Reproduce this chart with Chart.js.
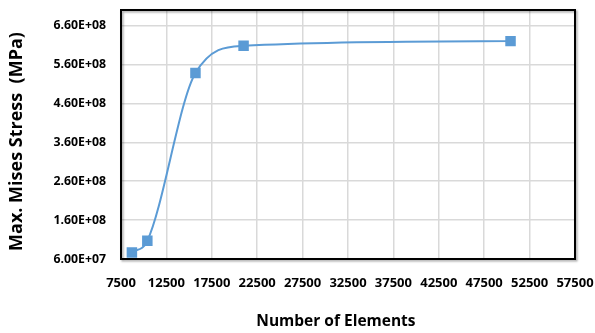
<!DOCTYPE html>
<html><head><meta charset="utf-8">
<script src="https://cdn.jsdelivr.net/npm/chart.js@4"></script>
<style>html,body{margin:0;padding:0;background:#fff}#wrap{width:595px;height:333px}</style>
</head><body><div id="wrap"><canvas id="c" width="595" height="333"></canvas></div>
<script>
const elementCounts = [8700, 10400, 15700, 21000, 50400];
const maxStress = [7.7e7, 1.07e8, 5.38e8, 6.08e8, 6.2e8];
const xTickValues = [7500, 12500, 17500, 22500, 27500, 32500, 37500, 42500, 47500, 52500, 57500];
const yTickValues = [6.0e7, 1.6e8, 2.6e8, 3.6e8, 4.6e8, 5.6e8, 6.6e8];

function sci(v){
  const parts = Number(v).toExponential(2).split('e');
  const n = parseInt(parts[1], 10);
  return parts[0] + 'E' + (n < 0 ? '-' : '+') + String(Math.abs(n)).padStart(2, '0');
}

const frame = {
  id: 'frame',
  beforeDatasetsDraw(chart){
    const a = chart.chartArea, ctx = chart.ctx;
    ctx.save();
    ctx.shadowColor = 'rgba(0,0,0,0.35)';
    ctx.shadowOffsetX = 1.5; ctx.shadowOffsetY = 1.5; ctx.shadowBlur = 2;
    ctx.strokeStyle = '#000'; ctx.lineWidth = 2;
    ctx.strokeRect(a.left, a.top, a.right - a.left, a.bottom - a.top);
    ctx.restore();
  }
};

const xTickFont = {family: "'Open Sans', sans-serif", weight: 'bold', size: 13};
const yTickFont = {family: "'Open Sans', sans-serif", weight: 'bold', size: 12.3};

new Chart(document.getElementById('c'), {
  type: 'line',
  data: {
    datasets: [{
      data: elementCounts.map((x, i) => ({x: x, y: maxStress[i]})),
      borderColor: '#5B9BD5',
      backgroundColor: '#5B9BD5',
      borderWidth: 2,
      pointStyle: 'rect',
      pointRadius: 6,
      pointHoverRadius: 6,
      cubicInterpolationMode: 'monotone',
      fill: false
    }]
  },
  options: {
    responsive: false,
    devicePixelRatio: 1,
    animation: false,
    events: [],
    layout: {padding: {left: 0, right: 20, top: 10, bottom: 0}},
    plugins: {legend: {display: false}, tooltip: {enabled: false}},
    scales: {
      x: {
        type: 'linear', min: 7500, max: 57500,
        afterBuildTicks: s => { s.ticks = xTickValues.map(v => ({value: v})); },
        afterFit: s => { s.height = 74; s.paddingLeft = 0; s.paddingRight = 0; },
        ticks: {font: xTickFont, color: '#000', padding: 16, autoSkip: false, maxRotation: 0, callback: v => String(v)},
        grid: {color: '#d9d9d9', lineWidth: 1.5, drawTicks: false},
        border: {display: false},
        title: {display: true, text: 'Number of Elements      ', color: '#000',
          font: {family: "'Open Sans', sans-serif", weight: 'bold', size: 15.5}, padding: {top: 0, bottom: 2}}
      },
      y: {
        type: 'linear', min: 6.0e7, max: 7.0e8,
        afterBuildTicks: s => { s.ticks = yTickValues.map(v => ({value: v})); },
        afterFit: s => { s.width = 121; s.paddingTop = 0; s.paddingBottom = 0; },
        ticks: {font: yTickFont, color: '#000', padding: 15, callback: v => sci(v)},
        grid: {color: '#d9d9d9', lineWidth: 1.5, drawTicks: false},
        border: {display: false},
        title: {display: true, text: 'Max. Mises Stress  (MPa)   ', color: '#000',
          font: {family: "'Open Sans', sans-serif", weight: 'bold', size: 18}, padding: {top: 6.5, bottom: 0}}
      }
    }
  },
  plugins: [frame]
});
</script>
</body></html>
